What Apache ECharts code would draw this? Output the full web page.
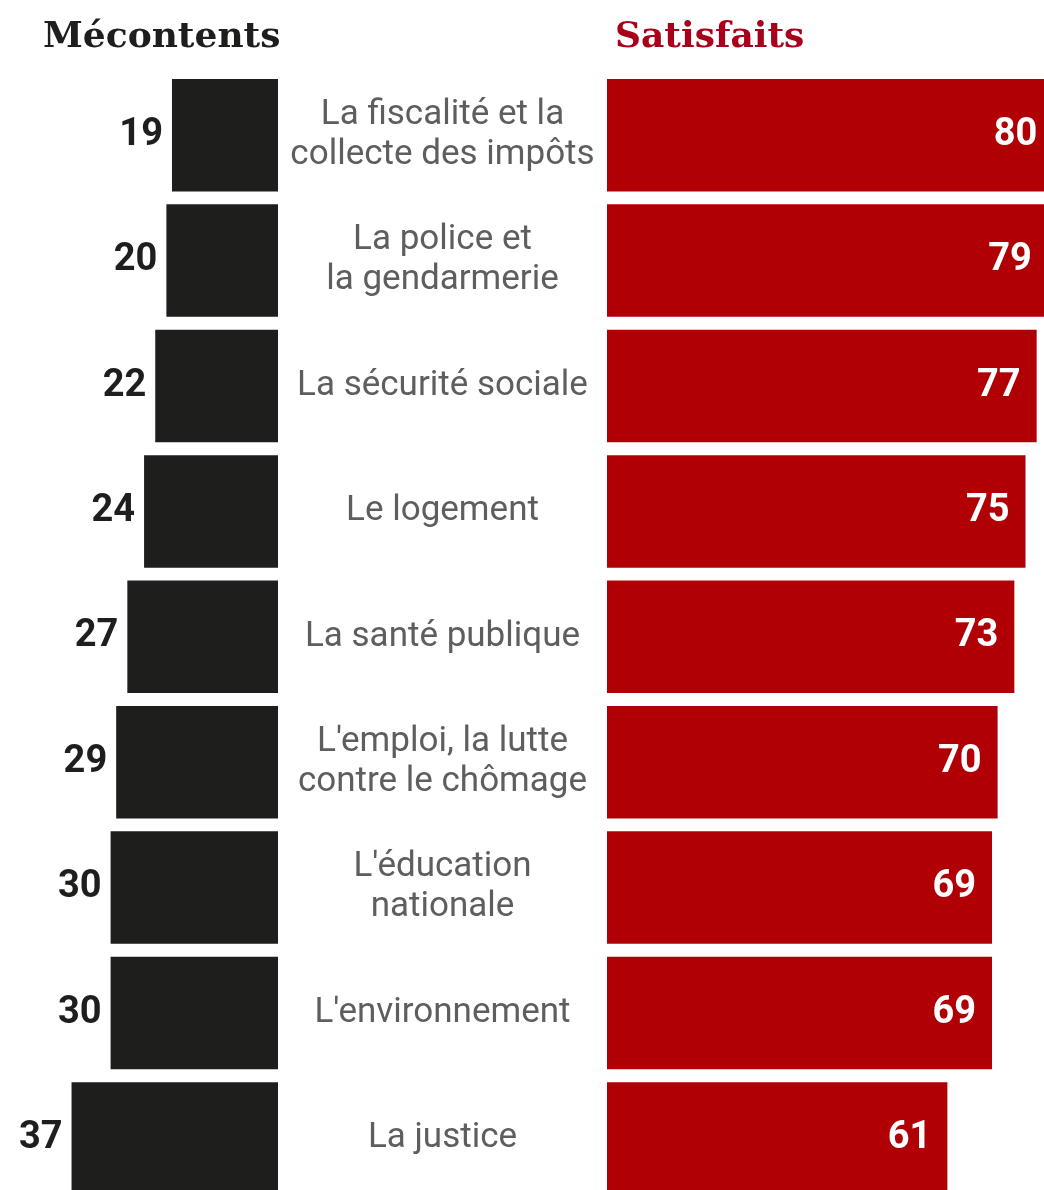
<!DOCTYPE html>
<html>
<head>
<meta charset="utf-8">
<script src="https://cdn.jsdelivr.net/npm/echarts@6/dist/echarts.min.js"></script>
<style>
    html, body { margin: 0; padding: 0; background: #fff; }
    #chart { width: 1044px; height: 1190px; }
</style>
</head>
<body>
<div id="chart"></div>
<script>
var categories = [
    'La fiscalité et la\ncollecte des impôts',
    'La police et\nla gendarmerie',
    'La sécurité sociale',
    'Le logement',
    'La santé publique',
    "L'emploi, la lutte\ncontre le chômage",
    "L'éducation\nnationale",
    "L'environnement",
    'La justice'
];
var mecontents = [19, 20, 22, 24, 27, 29, 30, 30, 37];
var satisfaits = [80, 79, 77, 75, 73, 70, 69, 69, 61];

var chart = echarts.init(document.getElementById('chart'));

// the plot runs a bit past the bottom and right edge of the picture
var gridTop = 72.5;
var gridBottom = -11.1;

var option = {
    animation: false,
    backgroundColor: '#fff',
    title: [
        {
            text: 'Mécontents',
            left: 38, top: 15,
            textStyle: { fontFamily: 'DejaVu Serif', fontWeight: 'bold', fontSize: 36, color: '#1e1e1c' }
        },
        {
            text: 'Satisfaits',
            left: 610, top: 15,
            textStyle: { fontFamily: 'DejaVu Serif', fontWeight: 'bold', fontSize: 36, color: '#a8001a' }
        }
    ],
    grid: [
        { left: 0, width: 278, top: gridTop, bottom: gridBottom, outerBoundsMode: 'none' },
        { left: 607, right: -121, top: gridTop, bottom: gridBottom, outerBoundsMode: 'none' }
    ],
    xAxis: [
        { gridIndex: 0, type: 'value', min: 0, max: 49.82, inverse: true, show: false },
        { gridIndex: 1, type: 'value', min: 0, max: 100, show: false }
    ],
    yAxis: [
        {
            gridIndex: 0, type: 'category', data: categories, inverse: true, position: 'right',
            axisLine: { show: false }, axisTick: { show: false },
            axisLabel: {
                align: 'center', margin: 164.5,
                fontFamily: 'Roboto', fontSize: 35, lineHeight: 40, color: '#5e5e5e'
            }
        },
        {
            gridIndex: 1, type: 'category', data: categories, inverse: true,
            show: false
        }
    ],
    series: [
        {
            name: 'Mécontents', type: 'bar', xAxisIndex: 0, yAxisIndex: 0,
            data: mecontents, barWidth: 112.5, clip: false,
            itemStyle: { color: '#1e1e1c' },
            label: {
                show: true, position: 'left', distance: 9,
                fontFamily: 'Roboto', fontWeight: 'bold', fontSize: 38, color: '#1e1e1c'
            }
        },
        {
            name: 'Satisfaits', type: 'bar', xAxisIndex: 1, yAxisIndex: 1,
            data: satisfaits, barWidth: 112.5, clip: false,
            itemStyle: { color: '#b00005' },
            label: {
                show: true, position: 'insideRight', distance: 16,
                fontFamily: 'Roboto', fontWeight: 'bold', fontSize: 38, color: '#fff'
            }
        }
    ]
};

chart.setOption(option);
</script>
</body>
</html>
